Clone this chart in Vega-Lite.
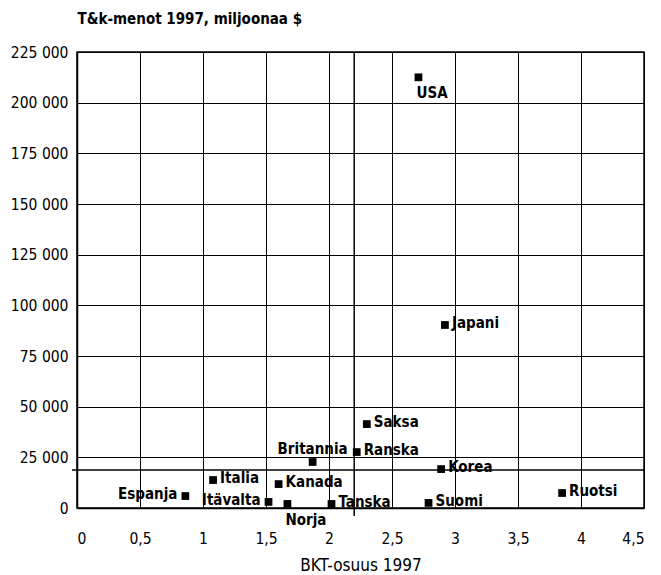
{
  "$schema": "https://vega.github.io/schema/vega-lite/v6.json",
  "width": 567,
  "height": 456,
  "autosize": {"type": "none"},
  "padding": {"left": 77, "top": 52, "right": 17, "bottom": 67},
  "background": "white",
  "config": {
    "font": "DejaVu Sans Condensed, Roboto, sans-serif",
    "view": {"stroke": "black", "strokeWidth": 1.5},
    "axis": {
      "gridColor": "black",
      "gridOpacity": 1,
      "gridWidth": 1,
      "domainColor": "black",
      "domainWidth": 1.5,
      "ticks": false,
      "labelFont": "DejaVu Sans Condensed, Roboto, sans-serif",
      "labelFontSize": 15.5,
      "labelColor": "black",
      "titleFont": "DejaVu Sans Condensed, Roboto, sans-serif",
      "titleColor": "black"
    }
  },
  "datasets": {
    "maat": [
      {"maa": "USA", "bkt": 2.71, "menot": 212500},
      {"maa": "Japani", "bkt": 2.92, "menot": 90300},
      {"maa": "Saksa", "bkt": 2.30, "menot": 41400},
      {"maa": "Ranska", "bkt": 2.22, "menot": 27600},
      {"maa": "Britannia", "bkt": 1.87, "menot": 22700},
      {"maa": "Korea", "bkt": 2.89, "menot": 19200},
      {"maa": "Italia", "bkt": 1.08, "menot": 13800},
      {"maa": "Kanada", "bkt": 1.60, "menot": 11800},
      {"maa": "Espanja", "bkt": 0.86, "menot": 5900},
      {"maa": "Itävalta", "bkt": 1.52, "menot": 3000},
      {"maa": "Norja", "bkt": 1.67, "menot": 2000},
      {"maa": "Tanska", "bkt": 2.02, "menot": 2000},
      {"maa": "Suomi", "bkt": 2.79, "menot": 2500},
      {"maa": "Ruotsi", "bkt": 3.85, "menot": 7400}
    ],
    "keskiarvo": [
      {"bkt": 2.2, "menot": 18700, "xmin": -0.04, "xmax": 4.5, "ymin": -4000, "ymax": 225000}
    ]
  },
  "layer": [
    {
      "data": {"name": "maat"},
      "mark": {"type": "point", "shape": "square", "filled": true, "color": "black", "size": 60, "opacity": 1},
      "encoding": {
        "x": {
          "field": "bkt", "type": "quantitative",
          "scale": {"domain": [0, 4.5], "nice": false, "zero": true},
          "axis": {
            "values": [0, 0.5, 1, 1.5, 2, 2.5, 3, 3.5, 4, 4.5],
            "labelExpr": "replace(toString(datum.value), '.', ',')",
            "labelPadding": 23,
            "labelFontWeight": "normal",
            "title": "BKT-osuus 1997",
            "titleFontSize": 17,
            "titleFontWeight": "normal",
            "titlePadding": 11
          }
        },
        "y": {
          "field": "menot", "type": "quantitative",
          "scale": {"domain": [0, 225000], "nice": false},
          "axis": {
            "values": [0, 25000, 50000, 75000, 100000, 125000, 150000, 175000, 200000, 225000],
            "labelExpr": "replace(format(datum.value, ',d'), ',', ' ')",
            "labelPadding": 9,
            "labelFontWeight": "normal",
            "title": "T&k-menot 1997, miljoonaa $",
            "titleAngle": 0,
            "titleAlign": "left",
            "titleBaseline": "middle",
            "titleX": 0,
            "titleY": -34,
            "titleFontSize": 15,
            "titleFontWeight": "bold"
          }
        }
      }
    },
    {
      "data": {"name": "keskiarvo"},
      "mark": {"type": "rule", "color": "black", "strokeWidth": 1.5, "clip": false},
      "encoding": {
        "x": {"field": "bkt", "type": "quantitative"},
        "y": {"field": "ymin", "type": "quantitative"},
        "y2": {"field": "ymax"}
      }
    },
    {
      "data": {"name": "keskiarvo"},
      "mark": {"type": "rule", "color": "black", "strokeWidth": 1.5, "clip": false},
      "encoding": {
        "y": {"field": "menot", "type": "quantitative"},
        "x": {"field": "xmin", "type": "quantitative"},
        "x2": {"field": "xmax"}
      }
    },
    {
      "data": {"name": "maat"},
      "transform": [{"filter": {"field": "maa", "oneOf": ["Japani", "Saksa", "Ranska", "Korea", "Italia", "Kanada", "Tanska", "Suomi", "Ruotsi"]}}],
      "mark": {"type": "text", "align": "left", "baseline": "middle", "dx": 7, "dy": -2, "fontWeight": "bold", "fontSize": 15, "color": "black"},
      "encoding": {
        "x": {"field": "bkt", "type": "quantitative"},
        "y": {"field": "menot", "type": "quantitative"},
        "text": {"field": "maa"}
      }
    },
    {
      "data": {"name": "maat"},
      "transform": [{"filter": {"field": "maa", "oneOf": ["Espanja", "Itävalta"]}}],
      "mark": {"type": "text", "align": "right", "baseline": "middle", "dx": -8, "dy": -2, "fontWeight": "bold", "fontSize": 15, "color": "black"},
      "encoding": {
        "x": {"field": "bkt", "type": "quantitative"},
        "y": {"field": "menot", "type": "quantitative"},
        "text": {"field": "maa"}
      }
    },
    {
      "data": {"name": "maat"},
      "transform": [{"filter": {"field": "maa", "oneOf": ["USA", "Norja"]}}],
      "mark": {"type": "text", "align": "left", "baseline": "middle", "dx": -2, "dy": 16, "fontWeight": "bold", "fontSize": 15, "color": "black"},
      "encoding": {
        "x": {"field": "bkt", "type": "quantitative"},
        "y": {"field": "menot", "type": "quantitative"},
        "text": {"field": "maa"}
      }
    },
    {
      "data": {"name": "maat"},
      "transform": [{"filter": {"field": "maa", "oneOf": ["Britannia"]}}],
      "mark": {"type": "text", "align": "center", "baseline": "middle", "dx": 0, "dy": -13, "fontWeight": "bold", "fontSize": 15, "color": "black"},
      "encoding": {
        "x": {"field": "bkt", "type": "quantitative"},
        "y": {"field": "menot", "type": "quantitative"},
        "text": {"field": "maa"}
      }
    }
  ]
}
